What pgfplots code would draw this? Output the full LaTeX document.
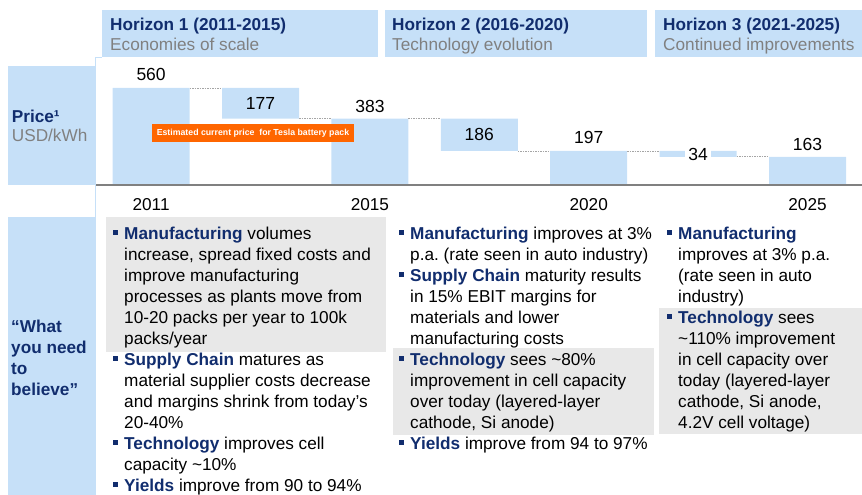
\documentclass[border=0pt]{standalone}
\usepackage{fontspec}
\setmainfont{Liberation Sans}
\usepackage{pgfplots}
\pgfplotsset{compat=1.18}
\frenchspacing
\definecolor{barblue}{RGB}{198,224,248}
\definecolor{navy}{RGB}{17,45,110}
\definecolor{subgray}{RGB}{128,128,128}
\definecolor{boxgray}{RGB}{232,232,232}
\definecolor{tesla}{RGB}{255,102,0}
\definecolor{conn}{RGB}{165,165,165}

\newcommand{\bfont}{\fontsize{17.2pt}{21.0pt}\selectfont}
\newcommand{\vfont}{\fontsize{17.5pt}{21pt}\selectfont}
\newcommand{\bul}{\leavevmode\llap{\textcolor{navy}{\rule[5pt]{4.5pt}{4.5pt}}\hspace{6.5pt}}}
\newcommand{\kw}[1]{\textcolor{navy}{\textbf{#1}}}

\pgfplotsset{wf/.style={
  scale only axis, width=765.8pt, height=128pt,
  at={(96.4pt,-185pt)}, anchor=south west,
  xmin=-0.5, xmax=6.5, ymin=0, ymax=738.6,
  clip=false,
}}

\begin{document}
\begin{tikzpicture}[x=1pt,y=1pt]
\path[use as bounding box] (0,0) rectangle (862,-495);
% header boxes
\fill[barblue] (102,-10) rectangle (378,-57);
\fill[barblue] (384.5,-10) rectangle (647,-57);
\fill[barblue] (655,-10) rectangle (862,-57);
\node[anchor=base west, inner sep=0, text=navy, font=\bfont\bfseries] at (110,-30.7) {Horizon 1 (2011-2015)};
\node[anchor=base west, inner sep=0, text=subgray, font=\bfont] at (110,-50.7) {Economies of scale};
\node[anchor=base west, inner sep=0, text=navy, font=\bfont\bfseries] at (392,-30.7) {Horizon 2 (2016-2020)};
\node[anchor=base west, inner sep=0, text=subgray, font=\bfont] at (392,-50.7) {Technology evolution};
\node[anchor=base west, inner sep=0, text=navy, font=\bfont\bfseries] at (663,-30.7) {Horizon 3 (2021-2025)};
\node[anchor=base west, inner sep=0, text=subgray, font=\bfont] at (663,-50.7) {Continued improvements};
% left label boxes
\fill[barblue] (94.5,-57) rectangle (96.2,-495);
\fill[barblue] (94.5,-57) rectangle (102,-58.5);
\fill[barblue] (8,-66) rectangle (95,-185);
\fill[barblue] (8,-217) rectangle (95,-495);
\node[anchor=base west, inner sep=0, text=navy, font=\bfont\bfseries] at (11.7,-122) {Price¹};
\node[anchor=base west, inner sep=0, text=subgray, font=\bfont] at (11.7,-141.7) {USD/kWh};
\node[anchor=base west, inner sep=0, text=navy] at (11,-332)
  {\parbox[t]{84pt}{\bfont\bfseries\raggedright “What\\you need\\to\\believe”}};
% gray highlight boxes
\fill[boxgray] (106,-217) rectangle (386,-352);
\fill[boxgray] (393,-348) rectangle (654,-435);
\fill[boxgray] (659,-308) rectangle (862,-434);

% waterfall bars
\begin{axis}[wf, ybar stacked, bar width=77pt, axis on top,
  axis x line*=bottom, axis y line=none, ytick=\empty,
  x axis line style={-, draw=subgray, line width=2.5pt},
  xtick={0,2,4,6}, xticklabels={2011,2015,2020,2025},
  major tick length=0pt, tick style={draw=none},
  xticklabel style={font=\bfont, text=black, anchor=center, yshift=-19.5pt},
]
\addplot[draw=none, fill=none] coordinates {(0,0) (1,383) (2,0) (3,197) (4,0) (5,163) (6,0)};
\addplot[draw=none, fill=barblue] coordinates {(0,560) (1,177) (2,383) (3,186) (4,197) (5,34) (6,163)};
\end{axis}

% connectors and value labels
\begin{axis}[wf, hide axis]
\addplot[conn, line width=0.6pt, dash pattern=on 1.5pt off 1pt] coordinates {(0.352,560) (0.648,560)};
\addplot[conn, line width=0.6pt, dash pattern=on 1.5pt off 1pt] coordinates {(1.352,383) (1.648,383)};
\addplot[conn, line width=0.6pt, dash pattern=on 1.5pt off 1pt] coordinates {(2.352,383) (2.648,383)};
\addplot[conn, line width=0.6pt, dash pattern=on 1.5pt off 1pt] coordinates {(3.352,197) (3.648,197)};
\addplot[conn, line width=0.6pt, dash pattern=on 1.5pt off 1pt] coordinates {(4.352,197) (4.648,197)};
\addplot[conn, line width=0.6pt, dash pattern=on 1.5pt off 1pt] coordinates {(5.352,163) (5.648,163)};
\addplot[only marks, mark=none, nodes near coords, point meta=explicit symbolic,
  nodes near coords style={font=\vfont, text=black, anchor=center, inner sep=0pt}]
  table[x=x, y=y, meta=lab, row sep=\\] {
x y lab\\
0 640.5 560\\
1 473 177\\
2 456 383\\
3 294 186\\
4 277 197\\
6 236.6 163\\
};
\addplot[only marks, mark=none, nodes near coords, point meta=explicit symbolic,
  nodes near coords style={font=\vfont, text=black, anchor=center, fill=white, inner xsep=3pt, inner ysep=1pt}]
  table[x=x, y=y, meta=lab, row sep=\\] {
x y lab\\
5 179 34\\
};
\end{axis}

% orange annotation
\node[fill=tesla, text=white, font=\fontsize{8.75pt}{10pt}\selectfont\bfseries,
  minimum width=202pt, minimum height=18pt, inner sep=0pt] at (253,-133)
  {Estimated current price\ \ for Tesla battery pack};

% text columns
\node[anchor=base west, inner sep=0] at (124,-239.5) {\parbox[t]{300pt}{\bfont\raggedright
\bul\kw{Manufacturing} volumes\\
increase, spread fixed costs and\\
improve manufacturing\\
processes as plants move from\\
10-20 packs per year to 100k\\
packs/year\\
\bul\kw{Supply Chain} matures as\\
material supplier costs decrease\\
and margins shrink from today’s\\
20-40\%\\
\bul\kw{Technology} improves cell\\
capacity \textasciitilde10\%\\
\bul\kw{Yields} improve from 90 to 94\%}};

\node[anchor=base west, inner sep=0] at (410,-239.5) {\parbox[t]{300pt}{\bfont\raggedright
\bul\kw{Manufacturing} improves at 3\%\\
p.a. (rate seen in auto industry)\\
\bul\kw{Supply Chain} maturity results\\
in 15\% EBIT margins for\\
materials and lower\\
manufacturing costs\\
\bul\kw{Technology} sees \textasciitilde80\%\\
improvement in cell capacity\\
over today (layered-layer\\
cathode, Si anode)\\
\bul\kw{Yields} improve from 94 to 97\%}};

\node[anchor=base west, inner sep=0] at (678,-239.5) {\parbox[t]{200pt}{\bfont\raggedright
\bul\kw{Manufacturing}\\
improves at 3\% p.a.\\
(rate seen in auto\\
industry)\\
\bul\kw{Technology} sees\\
\textasciitilde110\% improvement\\
in cell capacity over\\
today (layered-layer\\
cathode, Si anode,\\
4.2V cell voltage)}};
\end{tikzpicture}
\end{document}
